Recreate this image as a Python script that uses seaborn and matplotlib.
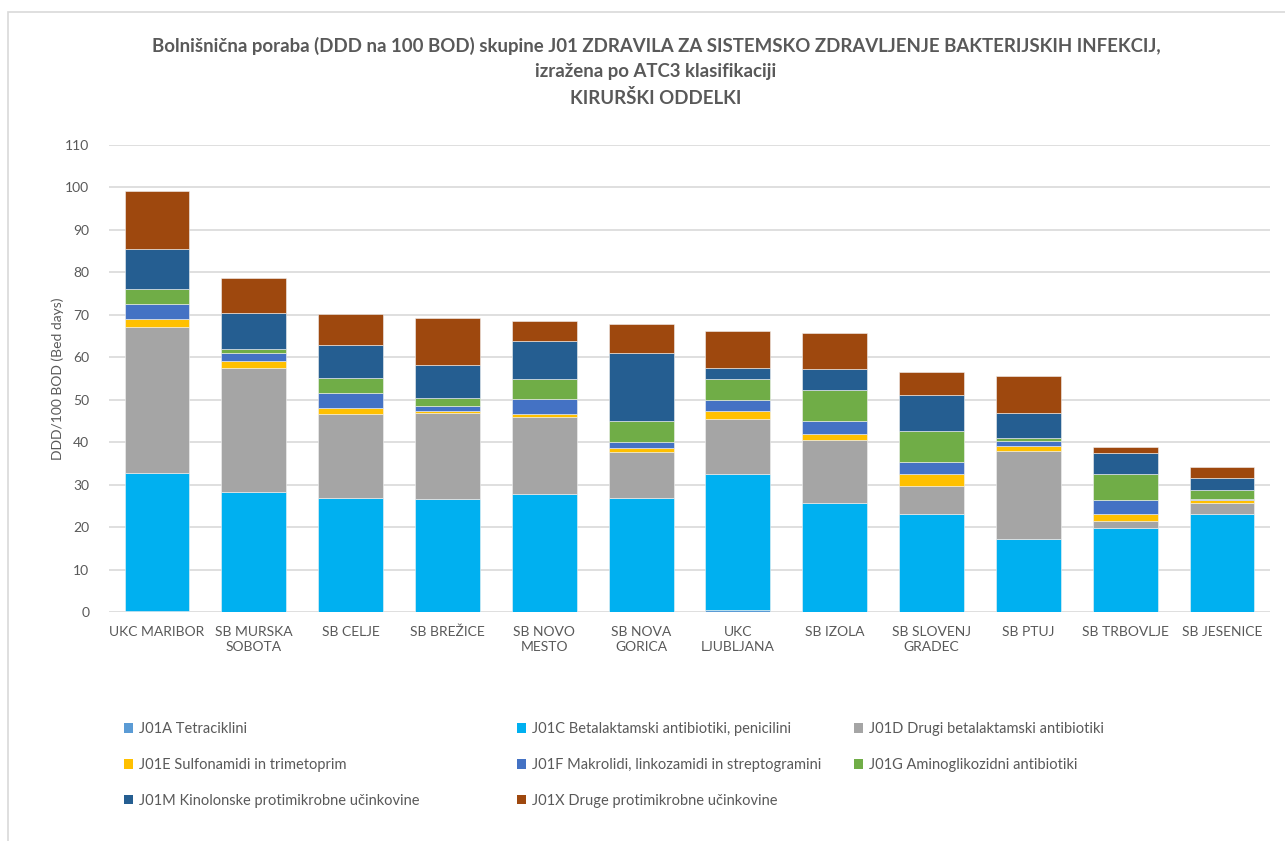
import numpy as np
import matplotlib
matplotlib.use("Agg")
import matplotlib.pyplot as plt
from matplotlib.patches import Patch, Rectangle
import seaborn as sns

hospitals = ["UKC MARIBOR", "SB MURSKA\nSOBOTA", "SB CELJE", "SB BREŽICE", "SB NOVO\nMESTO",
             "SB NOVA\nGORICA", "UKC\nLJUBLJANA", "SB IZOLA", "SB SLOVENJ\nGRADEC", "SB PTUJ",
             "SB TRBOVLJE", "SB JESENICE"]

j01a = [0.3, 0.0, 0.0, 0.0, 0.0, 0.0, 0.5, 0.0, 0.0, 0.0, 0.0, 0.0]
j01c = [32.4, 28.2, 26.9, 26.5, 27.8, 26.9, 31.9, 25.7, 23.2, 17.1, 19.7, 23.2]
j01d = [34.5, 29.2, 19.8, 20.3, 18.2, 10.9, 13.1, 14.7, 6.4, 20.9, 1.8, 2.5]
j01e = [1.7, 1.7, 1.4, 0.5, 0.7, 0.9, 1.8, 1.6, 2.8, 1.2, 1.7, 0.6]
j01f = [3.6, 1.8, 3.6, 1.3, 3.4, 1.3, 2.7, 3.0, 3.0, 1.0, 3.1, 0.4]
j01g = [3.6, 1.0, 3.5, 1.7, 4.7, 4.9, 4.9, 7.4, 7.2, 0.7, 6.1, 2.0]
j01m = [9.3, 8.6, 7.8, 7.8, 9.0, 16.0, 2.5, 4.8, 8.4, 6.0, 5.1, 2.9]
j01x = [13.8, 8.2, 7.2, 11.2, 4.7, 6.9, 8.8, 8.4, 5.5, 8.6, 1.4, 2.6]

series_names = ["J01A Tetraciklini", "J01C Betalaktamski antibiotiki, penicilini",
                "J01D Drugi betalaktamski antibiotiki", "J01E Sulfonamidi in trimetoprim",
                "J01F Makrolidi, linkozamidi in streptogramini", "J01G Aminoglikozidni antibiotiki",
                "J01M Kinolonske protimikrobne učinkovine", "J01X Druge protimikrobne učinkovine"]
series_values = [j01a, j01c, j01d, j01e, j01f, j01g, j01m, j01x]
colors = ["#5B9BD5", "#00B0F0", "#A5A5A5", "#FFC000", "#4472C4", "#70AD47", "#255E91", "#9E480E"]

sns.set_style("white")
plt.rcParams['font.family'] = ['Lato', 'DejaVu Sans']
GRAY = "#595959"

fig = plt.figure(figsize=(12.85, 8.41), dpi=100)
ax = fig.add_axes([108.6 / 1285, 1 - 612 / 841, (1270.4 - 108.6) / 1285, (612 - 145) / 841])

bottom = np.zeros(len(hospitals))
for name, vals, col in zip(series_names, series_values, colors):
    sns.barplot(x=hospitals, y=vals, bottom=bottom, color=col, saturation=1, width=0.67,
                errorbar=None, edgecolor="#F2F2F2", linewidth=0.4, ax=ax, zorder=3)
    bottom = bottom + np.array(vals)

ax.set_ylim(0, 110)
ax.set_xlim(-0.5, len(hospitals) - 0.5)
ax.set_yticks(range(0, 111, 10))
ax.yaxis.grid(True, color="#D9D9D9", linewidth=1.2, zorder=0)
ax.set_axisbelow(True)
for s in ax.spines.values():
    s.set_visible(False)
ax.tick_params(axis="both", length=0, colors=GRAY, labelsize=10)
ax.tick_params(axis="y", pad=14)
ax.tick_params(axis="x", pad=10)
for lbl in ax.get_xticklabels():
    lbl.set_linespacing(1.3)
ax.set_xlabel("")
ax.set_ylabel("DDD/100 BOD (Bed days)", color=GRAY, fontsize=10, labelpad=1)

title_lines = ["Bolnišnična poraba (DDD na 100 BOD) skupine J01 ZDRAVILA ZA SISTEMSKO ZDRAVLJENJE BAKTERIJSKIH INFEKCIJ,",
               "izražena po ATC3 klasifikaciji",
               "KIRURŠKI ODDELKI"]
for k, line in enumerate(title_lines):
    fig.text(656 / 1285, 1 - (46 + 26 * k) / 841, line,
             ha="center", va="center", fontsize=13.4, fontweight="bold", color=GRAY)

# legend in three fixed columns, filled row by row like the original
col_x = [124, 517, 854]
for c in range(3):
    idx = list(range(c, len(series_names), 3))
    handles = [Patch(facecolor=colors[i], edgecolor="none") for i in idx]
    fig.legend(handles, [series_names[i] for i in idx], loc="upper left",
               bbox_to_anchor=(col_x[c] / 1285, 1 - 722 / 841), frameon=False,
               fontsize=10.5, labelcolor=GRAY, handlelength=0.6, handleheight=0.65,
               handletextpad=0.4, labelspacing=1.5, borderaxespad=0, borderpad=0)

fig.add_artist(Rectangle((8 / 1285, -0.1), 1.2, 1 - 12 / 841 + 0.1, transform=fig.transFigure,
                         fill=False, edgecolor="#D9D9D9", linewidth=1.2))

fig.savefig("out.png", dpi=100, facecolor="white")
